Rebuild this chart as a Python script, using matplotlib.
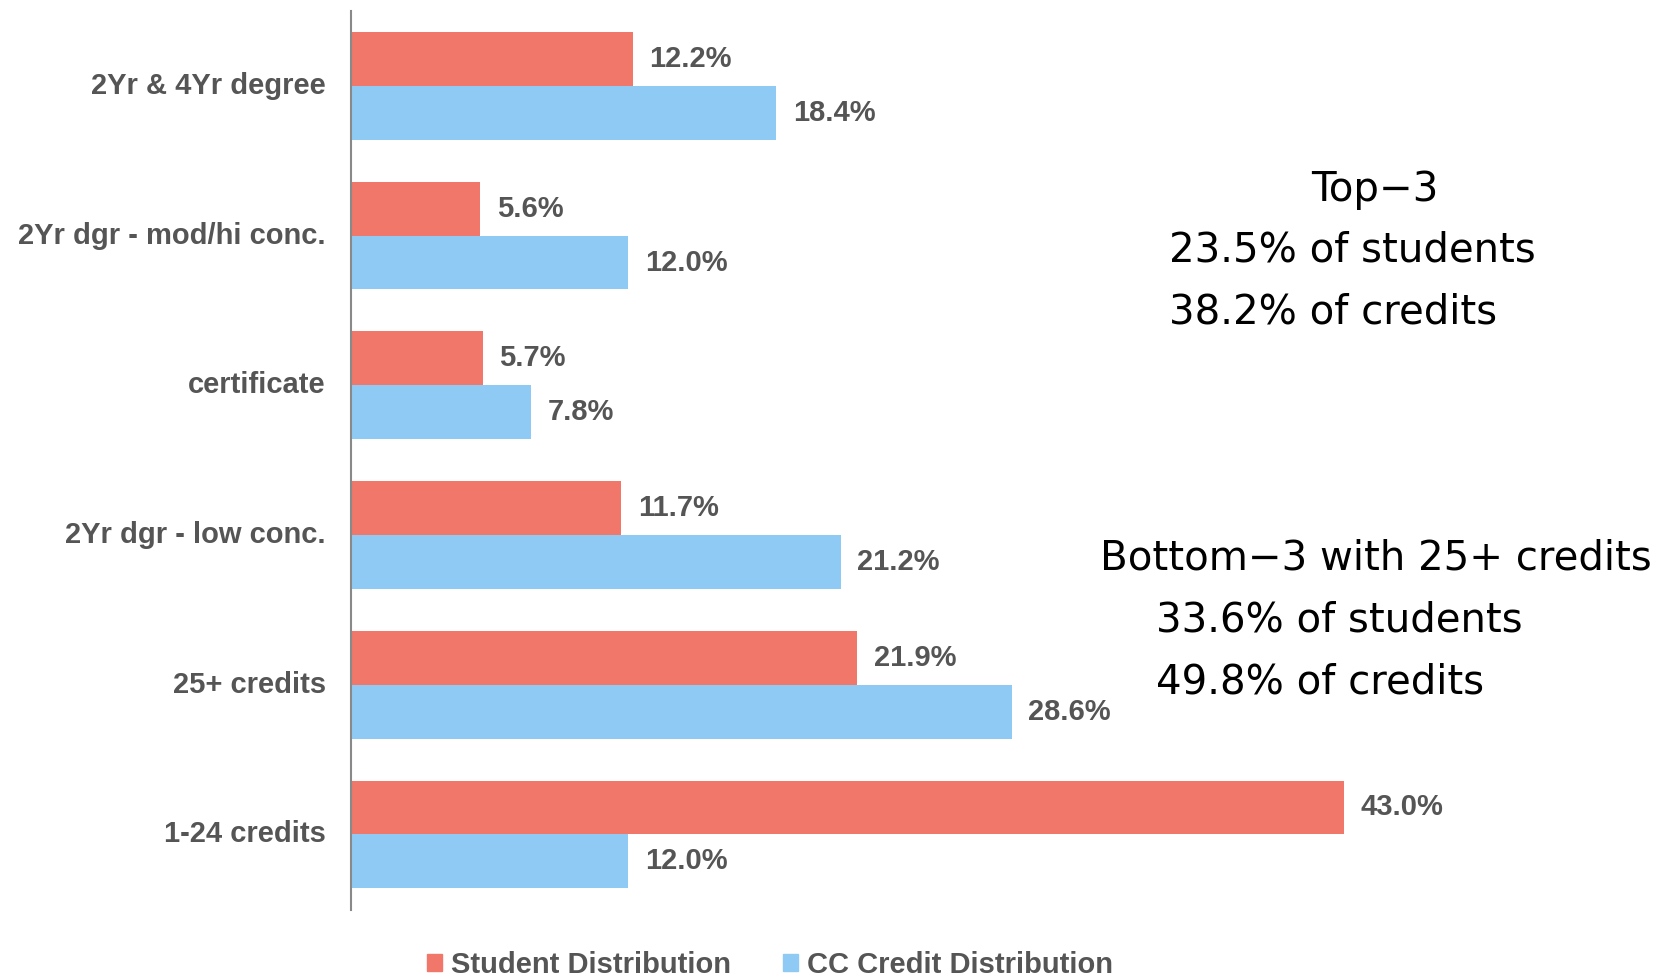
import matplotlib.pyplot as plt
import matplotlib.transforms as mtransforms
import numpy as np
from matplotlib.patches import Patch

categories = ['2Yr & 4Yr degree', '2Yr dgr - mod/hi conc.', 'certificate',
              '2Yr dgr - low conc.', '25+ credits', '1-24 credits']
student = [12.2, 5.6, 5.7, 11.7, 21.9, 43.0]
credit = [18.4, 12.0, 7.8, 21.2, 28.6, 12.0]
series_names = ['Student Distribution', 'CC Credit Distribution']

top_lines = ['Top\u22123', '23.5% of students', '38.2% of credits']
bottom_lines = ['Bottom\u22123 with 25+ credits', '33.6% of students', '49.8% of credits']

RED = '#F0776A'
BLUE = '#8FCAF5'
GRAY = '#555555'

W, H = 1674, 976
fig = plt.figure(figsize=(W / 100, H / 100), dpi=100)
ax = fig.add_axes([351 / W, 1 - 910 / H, (1506 - 351) / W, (910 - 11) / H])

n = len(categories)
y = np.arange(n)[::-1]
h = 0.36
ax.barh(y + h / 2, student, height=h, color=RED, label=series_names[0])
ax.barh(y - h / 2, credit, height=h, color=BLUE, label=series_names[1])

for yi, v in zip(y + h / 2, student):
    ax.annotate(f'{v:.1f}%', (v, yi), xytext=(12, 0), textcoords='offset points',
                va='center', ha='left', fontsize=21, fontweight='bold',
                color=GRAY, family='Liberation Sans')
for yi, v in zip(y - h / 2, credit):
    ax.annotate(f'{v:.1f}%', (v, yi), xytext=(12, 0), textcoords='offset points',
                va='center', ha='left', fontsize=21, fontweight='bold',
                color=GRAY, family='Liberation Sans')

ax.set_xlim(0, 50)
ax.set_ylim(-0.505, 5.5)
ax.set_yticks(y)
ax.set_yticklabels(categories, fontsize=21, fontweight='bold', color=GRAY,
                   family='Liberation Sans', va='center_baseline')
ax.tick_params(axis='y', length=0, pad=18)
ax.set_xticks([])
# nudge category labels up a touch
shift = mtransforms.ScaledTranslation(0, 3 / 100, fig.dpi_scale_trans)
for lab in ax.get_yticklabels():
    lab.set_transform(lab.get_transform() + shift)
for s in ['top', 'right', 'bottom']:
    ax.spines[s].set_visible(False)
ax.spines['left'].set_color('#898989')
ax.spines['left'].set_linewidth(1.5)

# side notes
for txt, (px, py) in zip(top_lines, [(1311, 190), (1169, 251), (1169, 313)]):
    fig.text(px / W, 1 - py / H, txt, fontsize=29, color='black',
             ha='left', va='center', family='DejaVu Sans')
for txt, (px, py) in zip(bottom_lines, [(1100, 558), (1156, 620), (1156, 682)]):
    fig.text(px / W, 1 - py / H, txt, fontsize=29, color='black',
             ha='left', va='center', family='DejaVu Sans')

handles = [Patch(color=RED), Patch(color=BLUE)]
fig.legend(handles, series_names, loc='center',
           bbox_to_anchor=(770 / W, 1 - 965 / H), ncol=2, frameon=False,
           handlelength=0.5, handleheight=0.5, handletextpad=0.3,
           columnspacing=1.8,
           prop={'family': 'Liberation Sans', 'weight': 'bold', 'size': 21})
for t in fig.legends[0].get_texts():
    t.set_color(GRAY)

fig.savefig('out.png', dpi=100)
